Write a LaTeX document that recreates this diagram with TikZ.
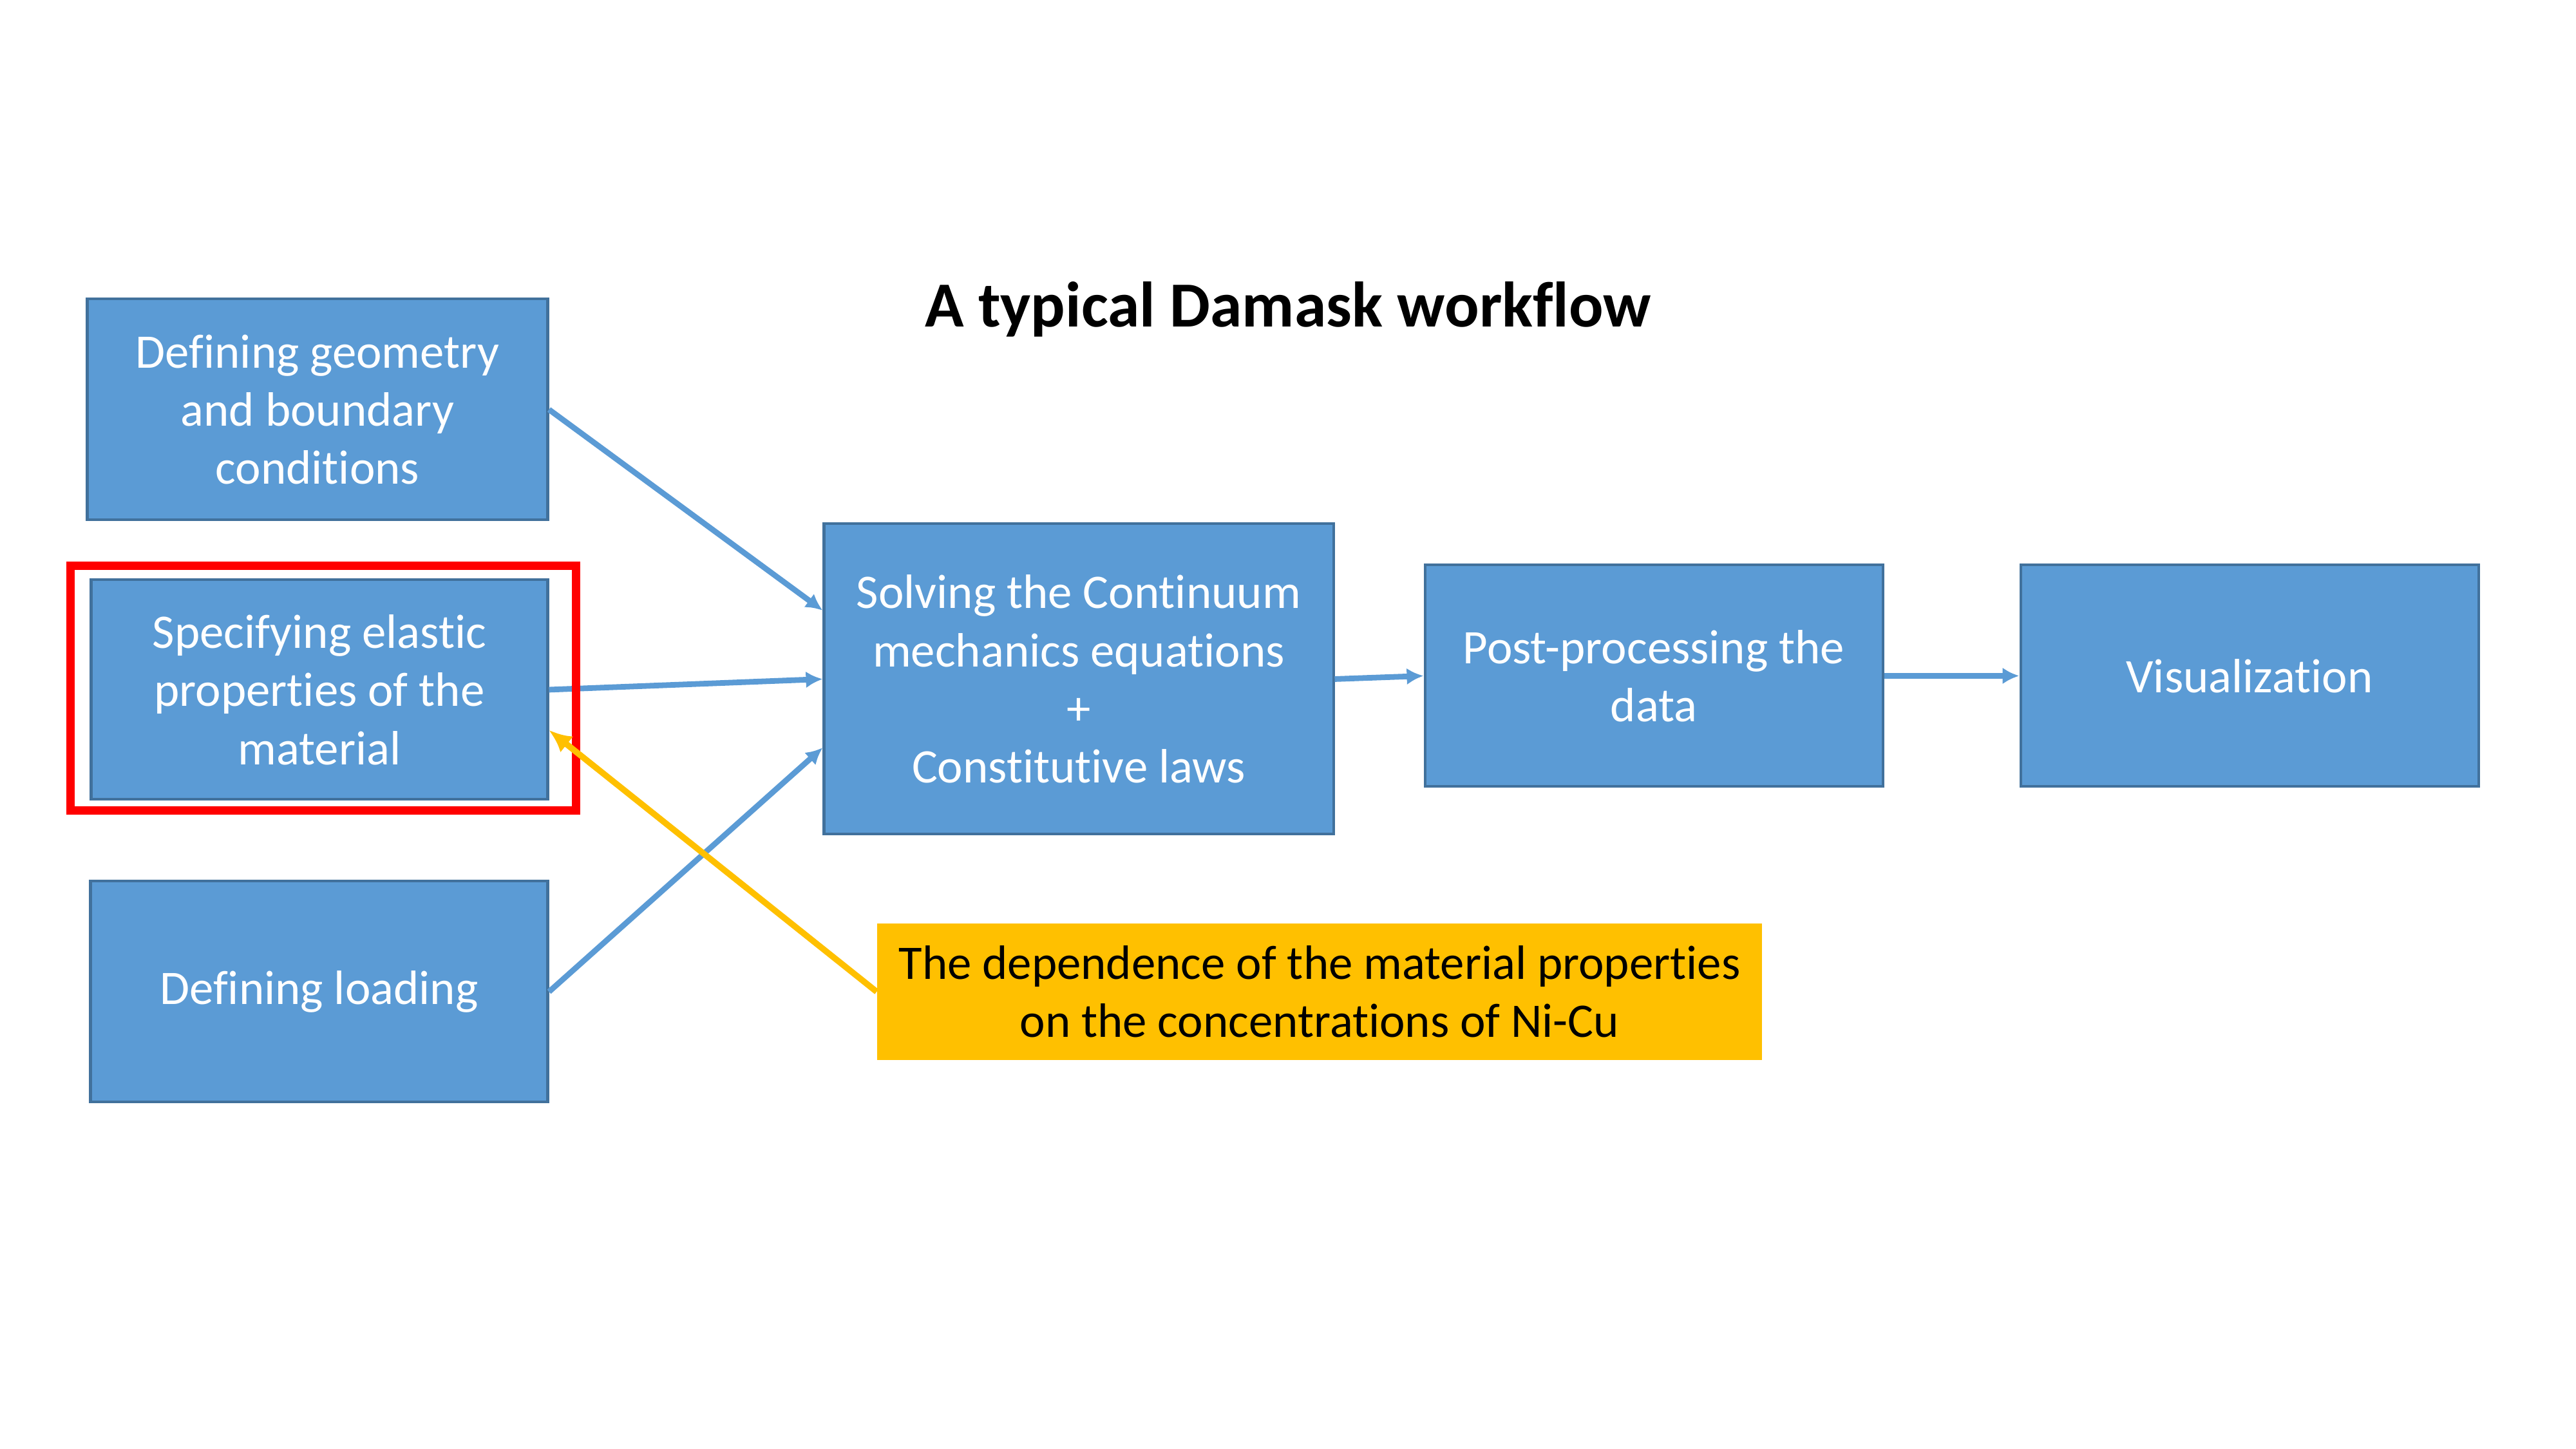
\documentclass[tikz,border=0pt]{standalone}
\usepackage{fontspec}
\setmainfont{Carlito}[Ligatures=CommonOff]
\usetikzlibrary{arrows.meta}
\definecolor{boxblue}{HTML}{5B9BD5}
\definecolor{boxline}{HTML}{41719C}
\definecolor{noteyellow}{HTML}{FFC000}

\begin{document}
\begin{tikzpicture}[>={Latex[length=7.4pt,width=7.4pt]},
	box/.style={draw=boxline, line width=1.15pt, fill=boxblue, text=white, align=center, inner sep=0pt, font=\fontsize{21.3}{25.7}\selectfont},
	flow/.style={->, boxblue, line width=2.5pt}]

\useasboundingbox (0,0) rectangle (40,22.5);

\node (title) at (20.0,17.70) {\fontsize{28.4}{34}\selectfont\bfseries A typical Damask workflow};

\node[box, minimum width=7.15cm, minimum height=3.43cm] (geom) at (4.93,16.14) {Defining geometry\\and boundary\\conditions};
\node[box, minimum width=7.09cm, minimum height=3.41cm] (spec) at (4.96,11.79) {Specifying elastic\\properties of the\\material};
\node[box, minimum width=7.10cm, minimum height=3.43cm] (load) at (4.955,7.10) {Defining loading};
\node[box, minimum width=7.91cm, minimum height=4.82cm] (solve) at (16.75,11.955) {Solving the Continuum\\mechanics equations\\+\\Constitutive laws};
\node[box, minimum width=7.11cm, minimum height=3.44cm] (post) at (25.68,12.005) {Post-processing the\\data};
\node[box, minimum width=7.11cm, minimum height=3.44cm] (vis) at (34.93,12.005) {Visualization};
\node[fill=noteyellow, align=center, inner sep=0pt, minimum width=13.74cm, minimum height=2.12cm, font=\fontsize{21.3}{25.7}\selectfont] (note) at (20.49,7.10) {The dependence of the material properties\\on the concentrations of Ni-Cu};

\draw[flow] (geom.east) -- (solve.165);
\draw[flow] (spec.east) -- (solve.west);
\draw[flow] (load.east) -- (solve.195);
\draw[flow] (solve.east) -- (post.west);
\draw[flow] (post.east) -- (vis.west);

\node[draw=red, line width=3.6pt, minimum width=7.85cm, minimum height=3.8cm] (hl) at (5.02,11.815) {};

\draw[->, noteyellow, line width=2.7pt, >={Latex[length=10pt,width=9pt]}] (note.west) -- (spec.-10);

\end{tikzpicture}
\end{document}
